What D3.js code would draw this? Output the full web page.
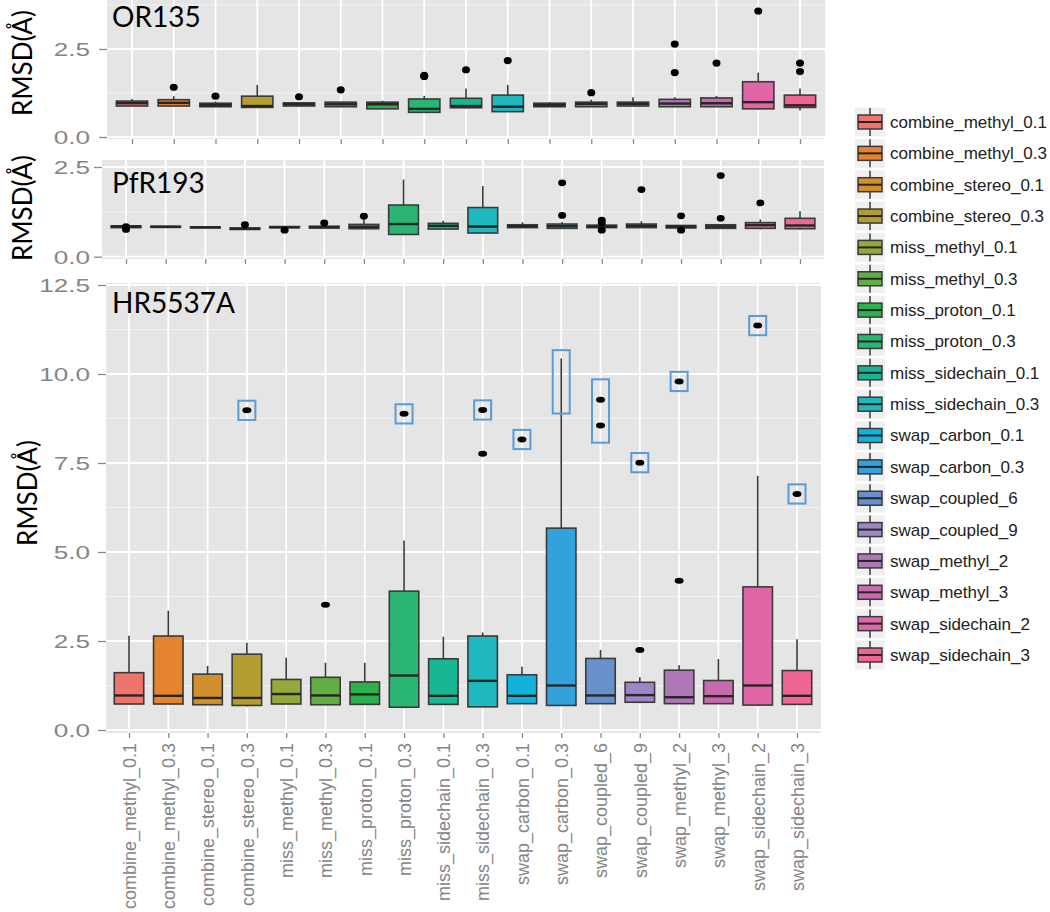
<!DOCTYPE html>
<html><head><meta charset="utf-8">
<script src="https://cdn.jsdelivr.net/npm/d3@7"></script>
<style>body{margin:0;background:#fff}</style>
</head><body><svg id="c" width="1050" height="912"></svg>
<script>
// ---------------- DATA ----------------
const categories = ["combine_methyl_0.1","combine_methyl_0.3","combine_stereo_0.1","combine_stereo_0.3",
  "miss_methyl_0.1","miss_methyl_0.3","miss_proton_0.1","miss_proton_0.3","miss_sidechain_0.1","miss_sidechain_0.3",
  "swap_carbon_0.1","swap_carbon_0.3","swap_coupled_6","swap_coupled_9","swap_methyl_2","swap_methyl_3",
  "swap_sidechain_2","swap_sidechain_3"];
const colors = ["#F0736C","#E5832E","#D2902A","#B49E30","#93A93A","#62AE45","#2BB24C","#2AB573","#18B794","#1FB8BF",
  "#12B2DC","#33A2DC","#6890CC","#9D86C6","#AF76B8","#C86BAE","#E066A8","#F06592"];

// OR135 (swap_coupled_9 absent)
const orCategories = ["combine_methyl_0.1","combine_methyl_0.3","combine_stereo_0.1","combine_stereo_0.3",
  "miss_methyl_0.1","miss_methyl_0.3","miss_proton_0.1","miss_proton_0.3","miss_sidechain_0.1","miss_sidechain_0.3",
  "swap_carbon_0.1","swap_carbon_0.3","swap_coupled_6","swap_methyl_2","swap_methyl_3","swap_sidechain_2","swap_sidechain_3"];
const orLow  = [0.88,0.87,0.85,0.83,0.87,0.86,0.79,0.69,0.81,0.71,0.85,0.85,0.87,0.85,0.85,0.78,0.75];
const orQ1   = [0.88,0.88,0.86,0.84,0.88,0.86,0.80,0.70,0.83,0.72,0.86,0.86,0.88,0.86,0.86,0.80,0.84];
const orMed  = [0.96,0.97,0.91,0.88,0.93,0.93,0.93,0.80,0.88,0.86,0.91,0.94,0.94,0.95,0.96,0.99,0.90];
const orQ3   = [1.02,1.06,0.96,1.16,0.97,0.99,0.99,1.08,1.10,1.19,0.96,0.99,0.99,1.07,1.11,1.57,1.19];
const orHigh = [1.08,1.16,1.01,1.48,0.99,0.99,1.03,1.17,1.38,1.48,0.99,1.06,1.13,1.13,1.17,1.83,1.38];
const orOut  = [[],[1.41],[1.16],[],[1.14],[1.34],[],[1.72,1.75],[1.91],[2.17],[],[1.26],[],[1.83,2.64],[2.10],[3.58],[1.86,2.10]];

// PfR193
const pfLow  = [0.81,0.82,0.81,0.76,0.81,0.80,0.78,0.60,0.77,0.66,0.81,0.79,0.81,0.81,0.80,0.79,0.76,0.76];
const pfQ1   = [0.81,0.82,0.81,0.76,0.81,0.80,0.78,0.62,0.77,0.66,0.81,0.79,0.81,0.81,0.80,0.79,0.79,0.78];
const pfMed  = [0.84,0.83,0.82,0.78,0.82,0.82,0.83,0.91,0.86,0.84,0.85,0.85,0.84,0.86,0.84,0.84,0.88,0.87];
const pfQ3   = [0.86,0.85,0.83,0.80,0.84,0.85,0.90,1.44,0.93,1.37,0.89,0.91,0.88,0.91,0.87,0.89,0.95,1.07];
const pfHigh = [0.86,0.85,0.83,0.80,0.84,0.85,1.05,2.15,1.00,1.97,0.96,0.97,0.88,0.99,0.87,0.89,1.04,1.27];
const pfOut  = [[0.84,0.76],[],[],[0.89],[0.74],[0.94],[1.13],[],[],[],[],[1.15,2.06],[1.02,0.94,0.74],[1.87],[1.14,0.74],[1.07,2.26],[1.50],[]];

// HR5537A
const hrLow  = [0.72,0.72,0.71,0.66,0.73,0.71,0.72,0.61,0.72,0.65,0.74,0.69,0.74,0.75,0.74,0.74,0.67,0.72];
const hrQ1   = [0.73,0.73,0.71,0.69,0.73,0.71,0.72,0.64,0.72,0.65,0.74,0.69,0.74,0.78,0.74,0.74,0.70,0.72];
const hrMed  = [0.97,0.96,0.90,0.90,1.01,0.97,1.00,1.53,0.96,1.38,0.96,1.25,0.97,0.98,0.92,0.95,1.25,0.96];
const hrQ3   = [1.61,2.64,1.57,2.13,1.42,1.48,1.35,3.90,2.00,2.64,1.55,5.67,2.01,1.34,1.68,1.39,4.02,1.67];
const hrHigh = [2.65,3.35,1.80,2.45,2.03,1.89,1.89,5.32,2.62,2.74,1.78,10.44,2.25,1.48,1.82,1.99,7.14,2.55];
const hrOut  = [[],[],[],[8.98],[],[3.52],[],[8.88],[],[7.76,8.99],[8.16],[],[9.28,8.55],[2.25,7.51],[4.19,9.79],[],[11.36],[6.63]];

// highlighted regions in HR5537A (category, lower value, upper value)
const hlCategories = ["combine_stereo_0.3","miss_proton_0.3","miss_sidechain_0.3","swap_carbon_0.1","swap_carbon_0.3",
  "swap_coupled_6","swap_coupled_9","swap_methyl_2","swap_sidechain_2","swap_sidechain_3"];
const hlLow  = [8.71,8.61,8.72,7.89,8.89,8.07,7.24,9.52,11.09,6.36];
const hlHigh = [9.25,9.15,9.26,8.43,10.67,9.85,7.78,10.06,11.63,6.90];

const panelTitles = ["OR135","PfR193","HR5537A"];
const yTicksSmall = [0, 2.5];
const yTicksLarge = [0, 2.5, 5, 7.5, 10, 12.5];
const yMinorSmall = [1.25, 3.75];
const yMinorLarge = [1.25, 3.75, 6.25, 8.75, 11.25];

// ---------------- DRAW ----------------
const svg = d3.select("#c");
const color = d3.scaleOrdinal().domain(categories).range(colors);
const FONT = "'Liberation Sans', Arial, sans-serif";
const TFONT = "Lato, 'Noto Sans', sans-serif";

function drawPanel(cfg) {
  const g = svg.append("g");
  const x = d3.scalePoint().domain(cfg.cats).range(cfg.xRange);
  const y = d3.scaleLinear().domain(cfg.yDomain).range(cfg.yRange);
  const step = x.step();
  const bw = step * 0.75;
  const P = cfg.panel;

  g.append("rect").attr("x", P.x0).attr("y", P.y0).attr("width", P.x1 - P.x0).attr("height", P.y1 - P.y0)
    .attr("fill", "#E5E5E5");
  const clip = "clip" + cfg.id;
  svg.append("clipPath").attr("id", clip).append("rect")
    .attr("x", P.x0).attr("y", P.y0).attr("width", P.x1 - P.x0).attr("height", P.y1 - P.y0);
  const inner = g.append("g").attr("clip-path", `url(#${clip})`);

  // gridlines
  inner.selectAll(".minor").data(cfg.minor).join("line")
    .attr("x1", P.x0).attr("x2", P.x1).attr("y1", d => y(d)).attr("y2", d => y(d))
    .attr("stroke", "#F2F2F2").attr("stroke-width", 1);
  inner.selectAll(".major").data(cfg.ticks).join("line")
    .attr("x1", P.x0).attr("x2", P.x1).attr("y1", d => y(d)).attr("y2", d => y(d))
    .attr("stroke", "#FFFFFF").attr("stroke-width", 1.8);
  inner.selectAll(".vgrid").data(cfg.cats).join("line")
    .attr("x1", d => x(d)).attr("x2", d => x(d)).attr("y1", P.y0).attr("y2", P.y1)
    .attr("stroke", "#FFFFFF").attr("stroke-width", 1.8);

  const rows = cfg.cats.map((c, i) => ({c, lo: cfg.low[i], q1: cfg.q1[i], med: cfg.med[i], q3: cfg.q3[i], hi: cfg.high[i], out: cfg.out[i]}));
  const bx = inner.selectAll(".box").data(rows).join("g");
  bx.append("line").attr("x1", d => x(d.c)).attr("x2", d => x(d.c))
    .attr("y1", d => y(d.hi)).attr("y2", d => y(d.q3)).attr("stroke", "#3a3a3a").attr("stroke-width", 1.6);
  bx.append("line").attr("x1", d => x(d.c)).attr("x2", d => x(d.c))
    .attr("y1", d => y(d.q1)).attr("y2", d => y(d.lo)).attr("stroke", "#3a3a3a").attr("stroke-width", 1.6);
  bx.append("rect").attr("x", d => x(d.c) - bw / 2).attr("width", bw)
    .attr("y", d => y(d.q3)).attr("height", d => Math.max(1, y(d.q1) - y(d.q3)))
    .attr("fill", d => color(d.c)).attr("stroke", "#3a3a3a").attr("stroke-width", 1.6);
  bx.append("line").attr("x1", d => x(d.c) - bw / 2).attr("x2", d => x(d.c) + bw / 2)
    .attr("y1", d => y(d.med)).attr("y2", d => y(d.med)).attr("stroke", "#262626").attr("stroke-width", 2.4);
  bx.selectAll(".o").data(d => d.out.map(v => ({c: d.c, v}))).join("ellipse")
    .attr("cx", d => x(d.c)).attr("cy", d => y(d.v)).attr("rx", cfg.dot[0]).attr("ry", cfg.dot[1]).attr("fill", "#000");

  if (cfg.hl) {
    const hls = cfg.hl.cats.map((c, i) => ({c, lo: cfg.hl.lo[i], hi: cfg.hl.hi[i]}));
    inner.selectAll(".hl").data(hls).join("rect")
      .attr("x", d => x(d.c) - 8.5).attr("width", 17)
      .attr("y", d => y(d.hi)).attr("height", d => y(d.lo) - y(d.hi))
      .attr("fill", "none").attr("stroke", "#5B9BD5").attr("stroke-width", 2);
  }

  // y axis
  const ya = g.append("g").attr("transform", `translate(${P.x0},0)`)
    .call(d3.axisLeft(y).tickValues(cfg.ticks).tickFormat(d3.format(".1f")).tickSize(8));
  ya.select(".domain").remove();
  ya.selectAll(".tick line").attr("stroke", "#8a8a8a").attr("stroke-width", 1.3);
  ya.selectAll(".tick text").attr("x", 0).attr("dy", "0.36em")
    .attr("transform", `translate(${90 - P.x0},0) scale(1.45,1)`)
    .attr("fill", "#858585").style("font-family", FONT).style("font-size", "18px");

  // x axis
  const xa = g.append("g").attr("transform", `translate(0,${P.y1})`)
    .call(d3.axisBottom(x).tickSize(5));
  xa.select(".domain").remove();
  xa.selectAll(".tick line").attr("stroke", "#8a8a8a").attr("stroke-width", 1.3);
  if (cfg.labels) {
    xa.selectAll(".tick text").attr("transform", "rotate(-90)").attr("text-anchor", "end")
      .attr("x", -10).attr("y", 0).attr("dy", "0.35em")
      .attr("fill", "#858585").style("font-family", FONT).style("font-size", "18px");
  } else {
    xa.selectAll(".tick text").remove();
  }

  // title and axis label
  g.append("text").attr("x", 112).attr("y", cfg.titleY).text(cfg.title)
    .style("font-family", TFONT).style("font-size", "28px").attr("fill", "#000");
  g.append("text").attr("transform", `translate(${cfg.labelPos[0]},${cfg.labelPos[1]}) rotate(-90)`)
    .attr("text-anchor", "middle").attr("dominant-baseline", "central").text("RMSD(Å)")
    .style("font-family", TFONT).style("font-size", "26px").attr("fill", "#000");
}

drawPanel({id: 1, cats: orCategories, low: orLow, q1: orQ1, med: orMed, q3: orQ3, high: orHigh, out: orOut,
  xRange: [132, 800], yDomain: [0, 2.5], yRange: [137, 49], panel: {x0: 107, x1: 825, y0: -2, y1: 139},
  ticks: yTicksSmall, minor: yMinorSmall, dot: [4, 3.6], title: panelTitles[0], titleY: 27, labelPos: [22, 63]});
drawPanel({id: 2, cats: categories, low: pfLow, q1: pfQ1, med: pfMed, q3: pfQ3, high: pfHigh, out: pfOut,
  xRange: [126, 800], yDomain: [0, 2.5], yRange: [256.7, 167], panel: {x0: 102, x1: 824, y0: 160, y1: 259},
  ticks: yTicksSmall, minor: yMinorSmall.slice(0, 1), dot: [4, 3.4], title: panelTitles[1], titleY: 193, labelPos: [22, 208]});
drawPanel({id: 3, cats: categories, low: hrLow, q1: hrQ1, med: hrMed, q3: hrQ3, high: hrHigh, out: hrOut,
  xRange: [129, 797], yDomain: [0, 12.5], yRange: [730, 285], panel: {x0: 106, x1: 821, y0: 283, y1: 733},
  ticks: yTicksLarge, minor: yMinorLarge, dot: [4.5, 3], labels: true,
  hl: {cats: hlCategories, lo: hlLow, hi: hlHigh}, title: panelTitles[2], titleY: 313, labelPos: [27, 493]});

// legend
const leg = svg.append("g");
const ly = d3.scalePoint().domain(categories).range([122, 655]);
const lg = leg.selectAll("g").data(categories).join("g").attr("transform", d => `translate(0,${ly(d)})`);
lg.append("rect").attr("x", 855).attr("y", -14.5).attr("width", 30).attr("height", 29).attr("fill", "#F0F0F0");
lg.append("line").attr("x1", 870).attr("x2", 870).attr("y1", -14).attr("y2", 14).attr("stroke", "#3a3a3a").attr("stroke-width", 1.5);
lg.append("rect").attr("x", 858).attr("y", -7).attr("width", 24).attr("height", 14)
  .attr("fill", d => color(d)).attr("stroke", "#3a3a3a").attr("stroke-width", 1.5);
lg.append("line").attr("x1", 858).attr("x2", 882).attr("y1", 0).attr("y2", 0).attr("stroke", "#262626").attr("stroke-width", 2);
lg.append("text").attr("x", 890).attr("y", 0).attr("dy", "0.35em").text(d => d)
  .style("font-family", FONT).style("font-size", "17px").attr("fill", "#222");
</script></body></html>
